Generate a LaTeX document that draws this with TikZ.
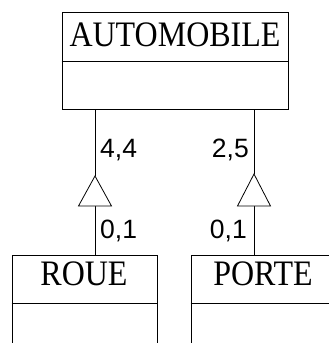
\documentclass[tikz,border=0pt]{standalone}
\usepackage{fontspec}
\setmainfont{Liberation Serif}
\newfontfamily\lblfont{Liberation Sans}
\newcommand{\tallttl}[1]{\scalebox{1}[1.12]{#1}}
\begin{document}
\begin{tikzpicture}[x=1pt,y=-1pt,
  box/.style={draw, line width=0.8pt, inner sep=0pt},
  ttl/.style={anchor=base, inner sep=0pt, font=\fontsize{32}{32}\selectfont},
  card/.style={inner sep=0pt, font=\lblfont\fontsize{26.5}{27}\selectfont},
  lnk/.style={line width=0.8pt},
  tri/.style={line width=0.8pt, fill=white}]
\clip (0,0) rectangle (329,343);
% AUTOMOBILE
\node[box, minimum width=226pt, minimum height=97pt] (auto) at (175,60.5) {};
\draw[lnk] (auto.west |- 0,61) -- (auto.east |- 0,61);
\node[ttl] (autot) at (175,46) {\tallttl{AUTOMOBILE}};
% ROUE
\node[box, minimum width=145pt, minimum height=110pt] (roue) at (84.5,310) {};
\draw[lnk] (roue.west |- 0,303) -- (roue.east |- 0,303);
\node[ttl] (rouet) at (84,285) {\tallttl{ROUE}};
% PORTE
\node[box, minimum width=144pt, minimum height=110pt] (porte) at (263,310) {};
\draw[lnk] (porte.west |- 0,303) -- (porte.east |- 0,303);
\node[ttl] (portet) at (263,285) {\tallttl{PORTE}};
% connector ROUE
\coordinate (ra) at (95,176);
\coordinate (rb) at (95,206);
\draw[lnk] (ra) -- (auto.south -| ra);
\draw[lnk] (roue.north -| rb) -- (rb);
\draw[tri] (ra) -- ++(-16.5,30) -- ++(33,0) -- cycle;
% connector PORTE
\coordinate (pa) at (254,174);
\coordinate (pb) at (254,206);
\draw[lnk] (pa) -- (auto.south -| pa);
\draw[lnk] (porte.north -| pb) -- (pb);
\draw[tri] (pa) -- ++(-16.5,32) -- ++(33,0) -- cycle;
% cardinalities
\node[card, anchor=base west] (c1) at (100,157) {4,4};
\node[card, anchor=base west] (c2) at (100,238) {0,1};
\node[card, anchor=base east] (c3) at (249,157) {2,5};
\node[card, anchor=base east] (c4) at (247,238) {0,1};
\end{tikzpicture}
\end{document}
